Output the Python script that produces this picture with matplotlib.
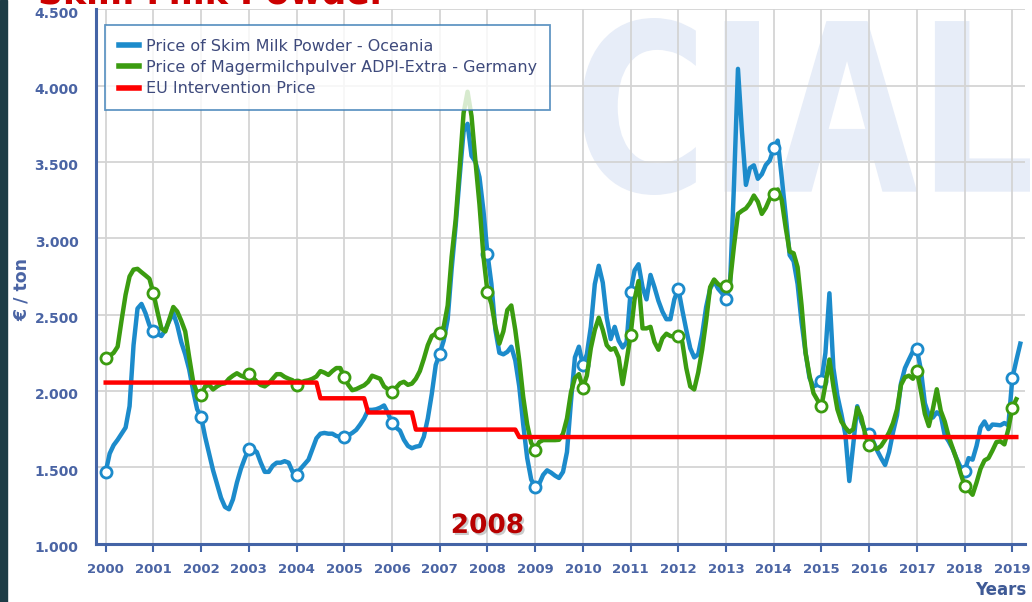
import numpy as np
import matplotlib
matplotlib.use('Agg')
import matplotlib.pyplot as plt
import matplotlib.transforms as mtransforms
import matplotlib.patheffects as pe
from matplotlib.textpath import TextPath
from matplotlib.patches import PathPatch, Rectangle
from matplotlib.font_manager import FontProperties

# monthly prices in EUR/ton, Jan 2000 onwards
oceania = (
    [1470, 1590, 1645, 1680, 1720, 1760, 1900, 2300, 2540, 2570, 2510, 2430] +  # 2000
    [2390, 2375, 2360, 2400, 2460, 2510, 2430, 2320, 2240, 2140, 2000, 1880] +  # 2001
    [1830, 1700, 1590, 1480, 1390, 1300, 1240, 1225, 1290, 1400, 1490, 1560] +  # 2002
    [1620, 1620, 1600, 1530, 1470, 1470, 1510, 1530, 1530, 1540, 1530, 1470] +  # 2003
    [1450, 1490, 1520, 1550, 1620, 1690, 1720, 1725, 1720, 1720, 1705, 1700] +  # 2004
    [1700, 1710, 1725, 1745, 1780, 1820, 1876, 1876, 1880, 1890, 1905, 1854] +  # 2005
    [1790, 1760, 1740, 1680, 1640, 1625, 1635, 1640, 1700, 1820, 1980, 2170] +  # 2006
    [2245, 2330, 2470, 2800, 3080, 3400, 3700, 3750, 3540, 3500, 3400, 3180] +  # 2007
    [2900, 2700, 2400, 2250, 2240, 2256, 2290, 2200, 2030, 1780, 1560, 1420] +  # 2008
    [1370, 1390, 1450, 1480, 1465, 1445, 1430, 1470, 1600, 1930, 2220, 2290] +  # 2009
    [2170, 2240, 2420, 2700, 2820, 2710, 2480, 2340, 2420, 2330, 2285, 2320] +  # 2010
    [2650, 2790, 2830, 2680, 2600, 2760, 2680, 2590, 2520, 2470, 2470, 2600] +  # 2011
    [2670, 2530, 2400, 2280, 2220, 2240, 2370, 2550, 2670, 2720, 2670, 2640] +  # 2012
    [2600, 2690, 3350, 4110, 3700, 3350, 3460, 3478, 3390, 3420, 3480, 3510] +  # 2013
    [3590, 3640, 3400, 3150, 2890, 2850, 2700, 2450, 2250, 2085, 2030, 2040] +  # 2014
    [2065, 2250, 2640, 2150, 1970, 1850, 1717, 1410, 1650, 1900, 1800, 1740] +  # 2015
    [1717, 1670, 1610, 1560, 1515, 1600, 1730, 1840, 2050, 2150, 2206, 2260] +  # 2016
    [2272, 2140, 1920, 1840, 1826, 1860, 1840, 1710, 1670, 1620, 1555, 1500] +  # 2017
    [1474, 1560, 1550, 1640, 1761, 1800, 1750, 1780, 1778, 1775, 1790, 1775] +  # 2018
    [2083, 2200, 2310]                                                          # 2019
)

germany = (
    [2214, 2230, 2250, 2290, 2465, 2630, 2750, 2795, 2800, 2778, 2757, 2735] +  # 2000
    [2640, 2520, 2410, 2390, 2470, 2550, 2520, 2460, 2390, 2220, 2060, 1985] +  # 2001
    [1975, 2030, 2040, 2010, 2030, 2045, 2050, 2080, 2100, 2116, 2100, 2090] +  # 2002
    [2112, 2090, 2060, 2039, 2030, 2050, 2080, 2110, 2110, 2092, 2080, 2070] +  # 2003
    [2040, 2055, 2065, 2070, 2080, 2095, 2130, 2120, 2105, 2130, 2150, 2150] +  # 2004
    [2090, 2040, 2005, 2012, 2025, 2037, 2060, 2100, 2090, 2080, 2030, 2010] +  # 2005
    [1996, 2020, 2050, 2060, 2040, 2048, 2080, 2130, 2210, 2300, 2360, 2375] +  # 2006
    [2380, 2420, 2560, 2880, 3120, 3460, 3820, 3960, 3800, 3500, 3220, 2880] +  # 2007
    [2650, 2570, 2420, 2310, 2390, 2530, 2560, 2400, 2200, 1960, 1780, 1660] +  # 2008
    [1615, 1665, 1678, 1678, 1678, 1678, 1680, 1720, 1820, 1990, 2085, 2110] +  # 2009
    [2020, 2100, 2280, 2400, 2480, 2400, 2300, 2270, 2280, 2220, 2045, 2200] +  # 2010
    [2367, 2600, 2720, 2410, 2410, 2420, 2320, 2270, 2345, 2375, 2360, 2355] +  # 2011
    [2360, 2320, 2150, 2030, 2010, 2120, 2270, 2460, 2680, 2730, 2700, 2685] +  # 2012
    [2687, 2710, 2950, 3160, 3180, 3196, 3230, 3280, 3240, 3160, 3200, 3260] +  # 2013
    [3293, 3320, 3250, 3070, 2913, 2902, 2810, 2560, 2250, 2100, 1985, 1940] +  # 2014
    [1900, 2043, 2206, 2030, 1880, 1800, 1760, 1730, 1750, 1890, 1830, 1717] +  # 2015
    [1648, 1630, 1620, 1640, 1680, 1728, 1790, 1880, 2040, 2090, 2100, 2080] +  # 2016
    [2130, 2000, 1850, 1770, 1880, 2011, 1870, 1800, 1700, 1625, 1550, 1460] +  # 2017
    [1380, 1350, 1320, 1400, 1490, 1545, 1560, 1610, 1665, 1670, 1650, 1750] +  # 2018
    [1891, 1946]                                                                # 2019
)

# EU intervention price: level and number of months it applied
eu_levels = [2055, 1952, 1859, 1747, 1698]
eu_months = [54, 12, 12, 26, 126]

years = list(range(2000, 2020))
yticks = [1000, 1500, 2000, 2500, 3000, 3500, 4000, 4500]
ytick_labels = ['1.000', '1.500', '2.000', '2.500', '3.000', '3.500', '4.000', '4.500']

labels = ['Price of Skim Milk Powder - Oceania',
          'Price of Magermilchpulver ADPI-Extra - Germany',
          'EU Intervention Price']

blue = '#1c8bcb'
green = '#3b9c10'
red = '#ff0000'
axis_col = '#4464a6'
text_col = '#4a64a4'

t_blue = 2000 + np.arange(len(oceania)) / 12
t_green = 2000 + np.arange(len(germany)) / 12
eu = np.repeat(eu_levels, eu_months)
t_eu = 2000 + np.arange(len(eu)) / 12

fig = plt.figure(figsize=(10.32, 6.02), dpi=100)
ax = fig.add_axes([0.0935, 0.097, 0.8997, 0.8875])

ax.plot(t_blue, oceania, color=blue, lw=3.2, marker='o', markevery=12, ms=8,
        mfc='white', mec=blue, mew=2, label=labels[0], zorder=3,
        solid_joinstyle='round')
ax.plot(t_green, germany, color=green, lw=3.2, marker='o', markevery=12, ms=8,
        mfc='white', mec=green, mew=2, label=labels[1], zorder=4,
        solid_joinstyle='round')
ax.plot(t_eu, eu, color=red, lw=3.2, label=labels[2], zorder=5)

ax.set_xlim(1999.807, 2019.265)
ax.set_ylim(1000, 4500)
ax.set_xticks(years)
ax.set_xticklabels([str(y) for y in years])
ax.set_yticks(yticks)
ax.set_yticklabels(ytick_labels)
ax.set_axisbelow(True)
ax.grid(True, color='#d4d4d4', lw=1.3)

for s in ['top', 'right']:
    ax.spines[s].set_visible(False)
for s in ['left', 'bottom']:
    ax.spines[s].set_color(axis_col)
    ax.spines[s].set_linewidth(2.2)

ax.tick_params(axis='x', colors=axis_col, length=6, width=1.5, pad=8,
               labelsize=9.5, labelcolor=text_col)
ax.tick_params(axis='y', length=0, pad=13, labelsize=10, labelcolor=text_col)
for lab in ax.get_xticklabels() + ax.get_yticklabels():
    lab.set_fontweight('bold')
off = mtransforms.ScaledTranslation(0, -3 / 100, fig.dpi_scale_trans)
for lab in ax.get_yticklabels():
    lab.set_transform(lab.get_transform() + off)

leg = ax.legend(loc='upper left', bbox_to_anchor=(0.0092, 0.9706), frameon=True,
                fancybox=False, fontsize=11.5, handlelength=1.25, handletextpad=0.45,
                borderpad=0.85, labelspacing=0.4, borderaxespad=0)
leg.get_frame().set_edgecolor('#3a7db5')
leg.get_frame().set_linewidth(1.3)
for h in leg.get_lines():
    h.set_linewidth(4)
    h.set_marker('')
for t in leg.get_texts():
    t.set_color('#3e4a7c')

# CIAL watermark
tp = TextPath((0, 0), 'CIAL', size=100,
              prop=FontProperties(family='DejaVu Sans', weight='bold'))
bb = tp.get_extents()
wm_tr = (mtransforms.Affine2D().translate(-bb.x0, -bb.y0)
         .scale(448 / bb.width, 177 / bb.height).translate(582, 407))
wm = PathPatch(tp, transform=wm_tr, fc='#e7edf8', ec='none', zorder=0.2)
wm.set_clip_on(False)
ax.add_artist(wm)

ax.text(2008, 1070, '2008', ha='center', va='baseline', fontsize=19,
        fontweight='bold', color='#b80000', zorder=6,
        path_effects=[pe.withSimplePatchShadow(offset=(1.5, -1.5),
                                               shadow_rgbFace='#999999', alpha=0.5)])

fig.text(22 / 1032, 1 - 290 / 602, '€ / ton', rotation=90, ha='center',
         va='center', fontsize=12.5, fontweight='bold', color=text_col)
fig.text(1026 / 1032, 1 - 590 / 602, 'Years', ha='right', va='center',
         fontsize=12, fontweight='bold', color='#3f5a96')
fig.text(38 / 1032, 1 - 3 / 602, 'Skim Milk Powder', ha='left', va='baseline',
         fontsize=25, fontweight='bold', color='#cc0000')

fig.patches.append(Rectangle((0, 0), 7 / 1032, 1, transform=fig.transFigure,
                             color='#1d3c46', zorder=0))

fig.savefig('out.png', dpi=100)
